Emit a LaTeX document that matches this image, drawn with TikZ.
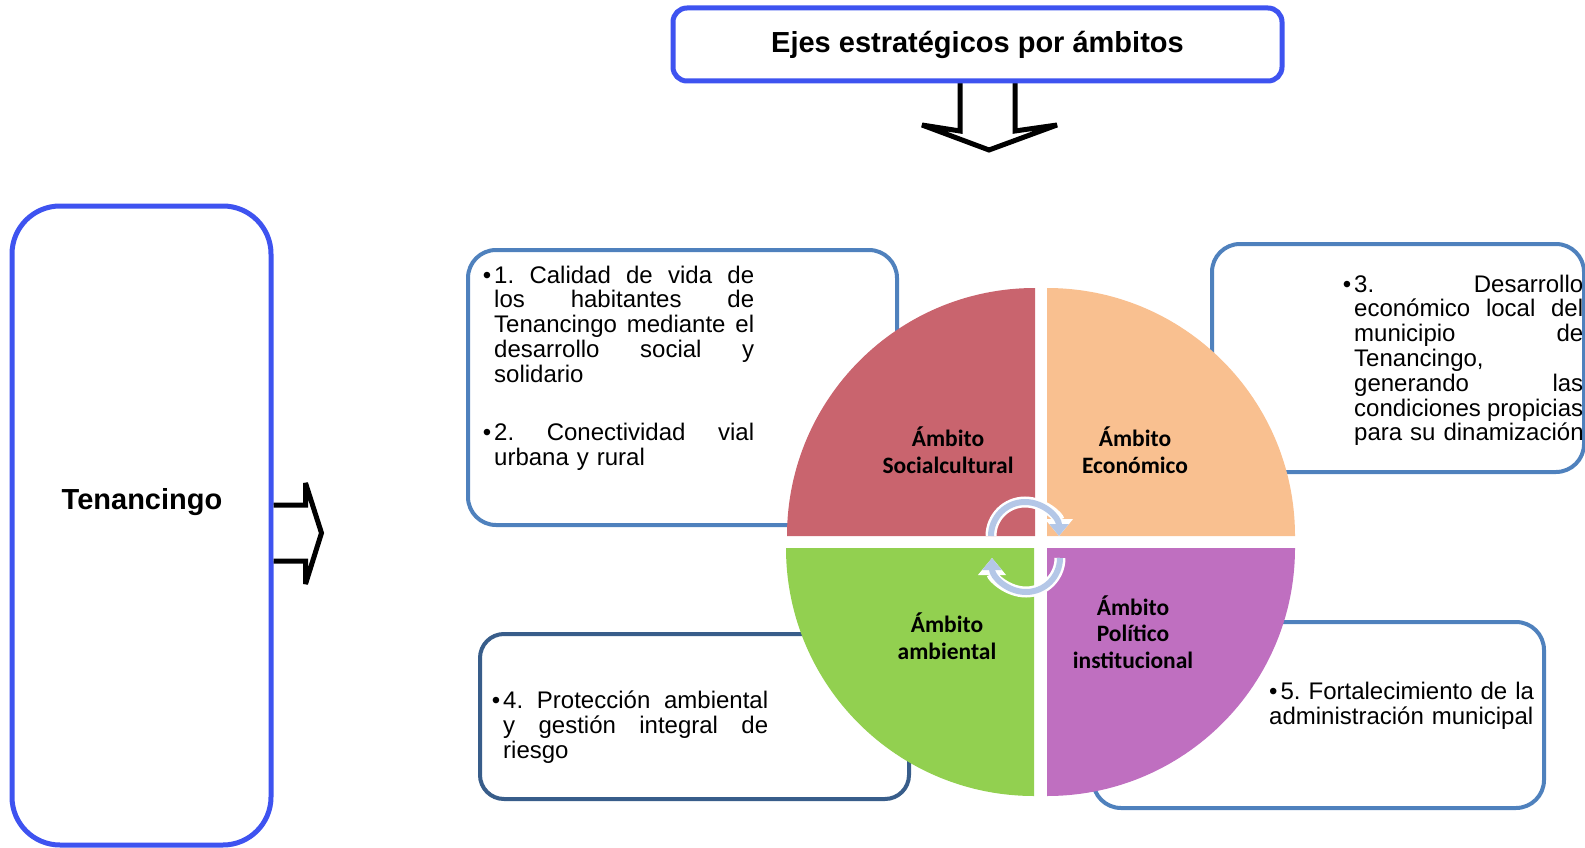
\documentclass[tikz,border=0pt]{standalone}
\usepackage{fontspec}
\setmainfont{Liberation Sans}
\newfontfamily\calibrifont{Carlito}
\usetikzlibrary{arrows.meta}
\frenchspacing

\definecolor{framecol}{RGB}{62,83,240}
\definecolor{ejecol}{RGB}{79,129,189}
\definecolor{ejedark}{RGB}{56,93,138}
\definecolor{socialcol}{RGB}{201,100,110}
\definecolor{economcol}{RGB}{249,192,144}
\definecolor{ambiencol}{RGB}{146,208,80}
\definecolor{politcol}{RGB}{191,111,192}
\definecolor{cyclecol}{RGB}{180,199,231}

\newcommand{\ejeline}[2]{\makebox[#1][s]{\spaceskip=0pt\relax #2}}
\newcommand{\ejebullet}{\leavevmode\llap{•\hspace{3pt}}}

\begin{document}
\begin{tikzpicture}[x=1pt,y=-1pt,
  frame box/.style={draw=framecol,line width=5pt,rounded corners=14pt,fill=white,inner sep=0pt},
  eje box/.style={draw=ejecol,line width=4pt,rounded corners=28pt,inner sep=0pt},
  item text/.style={font=\fontsize{24}{24.8}\selectfont,text width=272pt,align=left,
    inner sep=0pt,anchor=base west,execute at begin node={\parindent=0pt}},
  ambit label/.style={font=\calibrifont\bfseries\fontsize{23.5}{26.7}\selectfont,align=center},
  block arrow/.style={draw=black,fill=white,line width=5pt,miter limit=3.5},
  cycle back/.style={white,line width=11pt,-{Triangle[length=17pt,width=27pt]}},
  cycle front/.style={cyclecol,line width=6pt,-{Triangle[length=12pt,width=19pt]}}]

 \useasboundingbox (0,0) rectangle (1585,848);

 % boxes of the ejes
 \node[eje box,minimum width=429pt,minimum height=275pt] (box1) at (682.5,387.5) {};
 \node[eje box,minimum width=372pt,minimum height=228pt] (box3) at (1398,358) {};
 \node[eje box,draw=ejedark,rounded corners=24pt,minimum width=429pt,minimum height=165pt] (box4) at (694.5,716.5) {};
 \node[eje box,minimum width=451pt,minimum height=186pt] (box5) at (1318.5,715) {};

 \node[item text] (eje1) at (494,283) {\ejebullet\ejeline{260pt}{1. Calidad de vida de}\\
   \ejeline{260pt}{los habitantes de}\\
   \ejeline{260pt}{Tenancingo mediante el}\\
   \ejeline{260pt}{desarrollo social y}\\
   solidario\\[33.2pt]
   \ejebullet\ejeline{260pt}{2. Conectividad vial}\\
   urbana y rural};
 \node[item text] (eje3) at (1354,292) {\ejebullet\ejeline{229pt}{3. Desarrollo}\\
   \ejeline{229pt}{económico local del}\\
   \ejeline{229pt}{municipio de}\\
   Tenancingo,\\
   \ejeline{229pt}{generando las}\\
   \ejeline{229pt}{condiciones propicias}\\
   para su dinamización};
 \node[item text,font=\fontsize{24}{25.4}\selectfont] (eje4) at (503,708) {\ejebullet\ejeline{265pt}{4. Protección ambiental}\\
   \ejeline{265pt}{y gestión integral de}\\
   riesgo};
 \node[item text,font=\fontsize{24}{25}\selectfont] (eje5) at (1269,699) {•\hspace{3pt}5. Fortalecimiento de la\\
   administración municipal};

 % the four ambitos
 \fill[socialcol] (1035,536) -- (787,536) arc[start angle=180,end angle=270,radius=248] -- cycle;
 \fill[economcol] (1047,536) -- (1047,288) arc[start angle=270,end angle=360,radius=248] -- cycle;
 \fill[ambiencol] (1034,548) -- (1034,796) arc[start angle=90,end angle=180,radius=248] -- cycle;
 \fill[politcol] (1047,548) -- (1295,548) arc[start angle=0,end angle=90,radius=248] -- cycle;

 \node[ambit label] (social) at (948,450) {Ámbito\\Socialcultural};
 \node[ambit label] (econom) at (1135,450) {Ámbito\\Económico};
 \node[ambit label] (ambien) at (947,636) {Ámbito\\ambiental};
 \node[ambit label] (politi) at (1133,632) {Ámbito\\Político\\institucional};

 % cycle arrows in the middle
 \draw[cycle back] (991,536) arc[start angle=180,end angle=360,radius=34];
 \draw[cycle back] (1060,558) arc[start angle=0,end angle=180,radius=34];
 \draw[cycle front] (991,536) arc[start angle=180,end angle=360,radius=34];
 \draw[cycle front] (1060,558) arc[start angle=0,end angle=180,radius=34];

 % title and municipio
 \draw[block arrow] (960,81) -- ++(0,50) -- ++(-38,-6) -- ++(67,25) -- ++(68,-25) -- ++(-42,6) -- ++(0,-50);
 \node[frame box,minimum width=609pt,minimum height=73pt,font=\bfseries\fontsize{29}{33}\selectfont] (ejes) at (977.5,44.5) {Ejes estratégicos por ámbitos};
 \node[frame box,rounded corners=48pt,minimum width=259pt,minimum height=639pt] (tenbox) at (141.5,525.5) {};
 \node[font=\bfseries\fontsize{29}{33}\selectfont] (tenancingo) at (142,502) {Tenancingo};
 \draw[block arrow] ([yshift=20.5pt]tenbox.east) -- ++(32,0) -- ++(0,-22) -- ++(16,50) -- ++(-16,51) -- ++(0,-23) -- ++(-32,0);

\end{tikzpicture}
\end{document}
